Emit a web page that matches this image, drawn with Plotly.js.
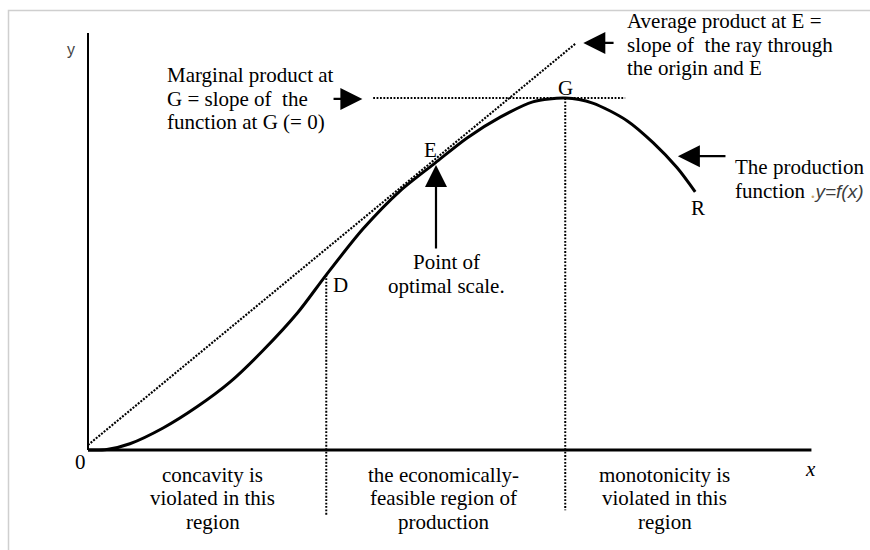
<!DOCTYPE html>
<html>
<head>
<meta charset="utf-8">
<script src="https://cdn.plot.ly/plotly-3.0.1.min.js"></script>
<style>
  html, body { margin: 0; padding: 0; background: #ffffff; }
  #chart { width: 870px; height: 550px; }
</style>
</head>
<body>
<div id="chart"></div>
<script>
// ---- data (arbitrary units) ----
const curveX = [0, 0.26, 0.58, 1.04, 1.51, 1.97, 2.42, 2.90, 3.30, 3.81, 4.32, 4.81, 5.25, 5.71, 6.16, 6.61, 6.99, 7.47, 7.83, 8.16, 8.41];
const curveY = [0, 0.01, 0.15, 0.53, 1.04, 1.64, 2.39, 3.30, 4.22, 5.33, 6.24, 6.92, 7.52, 8.02, 8.39, 8.48, 8.36, 7.93, 7.40, 6.80, 6.22];

const rayX = [0, 6.75];
const rayY = [0.12, 9.79];

const tangentX = [3.95, 7.44];
const tangentY = [8.48, 8.48];

const dropDX = [3.30, 3.30];
const dropDY = [4.22, -1.57];
const dropGX = [6.61, 6.61];
const dropGY = [8.48, -1.45];

const axisXEnd = 10.02;
const axisYEnd = 10.05;

const pointLabels = ['D', 'E', 'G', 'R'];

const marginalText = ['Marginal product at', 'G = slope of  the', 'function at G (= 0)'];
const averageText = ['Average product at E =', 'slope of  the ray through', 'the origin and E'];
const productionText = ['The production',
  'function <span style="color:#c9a46a">.</span><i><span style="font-family:\'Liberation Sans\', Arial, sans-serif;font-size:19px;color:#3d3d3d">y=f(x)</span></i>'];
const optimalText = ['Point of', 'optimal scale.'];
const regionTexts = [
  ['concavity is', 'violated in this', 'region'],
  ['the economically-', 'feasible region of', 'production'],
  ['monotonicity is', 'violated in this', 'region']
];

// ---- layout helpers ----
const SERIF = 'Liberation Serif, Times New Roman, serif';
const FS = 21;

const dotted = { color: '#000', width: 2, dash: '1.8px,1.6px' };
const traces = [
  { x: rayX, y: rayY, mode: 'lines', line: { color: '#000', width: 2.1, dash: '2px,1.4px' }, hoverinfo: 'skip' },
  { x: tangentX, y: tangentY, mode: 'lines', line: dotted, hoverinfo: 'skip' },
  { x: dropDX, y: dropDY, mode: 'lines', line: dotted, hoverinfo: 'skip' },
  { x: dropGX, y: dropGY, mode: 'lines', line: dotted, hoverinfo: 'skip' },
  { x: curveX, y: curveY, mode: 'lines', line: { color: '#000', width: 3, shape: 'spline', smoothing: 0.8 }, hoverinfo: 'skip' }
];

const annotations = [];
function txt(text, x, y, opts) {
  annotations.push(Object.assign({
    text: text, x: x, y: y, xref: 'x', yref: 'y', showarrow: false,
    xanchor: 'center', yanchor: 'middle', borderpad: 0, borderwidth: 0,
    font: { family: SERIF, size: FS, color: '#000' }
  }, opts || {}));
}
function arrow(tipX, tipY, tailX, tailY) {
  annotations.push({
    text: '', x: tipX, y: tipY, ax: tailX, ay: tailY,
    xref: 'x', yref: 'y', axref: 'x', ayref: 'y',
    showarrow: true, arrowhead: 2, arrowsize: 2, arrowwidth: 2.2, arrowcolor: '#000', standoff: 0
  });
}
// block of lines centred vertically on yMid
function block(lines, x, yMid, opts) {
  const step = 0.566;
  const n = lines.length;
  lines.forEach((t, i) => txt(t, x, yMid + ((n - 1) / 2 - i) * step, opts));
}

// axis labels
txt('y', -0.235, 9.66, { font: { family: 'Liberation Sans, Arial, sans-serif', size: 16, color: '#444' } });
txt('0', -0.11, -0.30);
txt('<i>x</i>', 10.0, -0.46);

// point labels
const pointPos = [[3.50, 3.98], [4.74, 7.23], [6.61, 8.72], [8.45, 5.83]];
pointLabels.forEach((p, i) => txt(p, pointPos[i][0], pointPos[i][1]));

// text blocks
block(marginalText, 1.10, 8.46, { xanchor: 'left' });
block(averageText, 7.47, 9.76, { xanchor: 'left' });
block(productionText, 8.96, 6.53, { xanchor: 'left' });
block(optimalText, 4.96, 4.24);
const regionCenters = [1.73, 4.92, 7.99];
regionTexts.forEach((lines, r) => block(lines, regionCenters[r], -1.16));

// arrows
arrow(3.80, 8.46, 3.38, 8.46);   // marginal product -> tangent line
arrow(6.86, 9.81, 7.30, 9.81);   // average product -> ray
arrow(4.82, 6.87, 4.82, 4.82);   // point of optimal scale -> E
arrow(8.17, 7.08, 8.85, 7.08);   // production function -> curve

const shapes = [
  // thin grey frame of the original figure
  { type: 'rect', xref: 'paper', yref: 'paper', x0: 8.5 / 870, x1: 1.02, y0: -0.02, y1: 1 - 10.5 / 550,
    line: { color: '#cfcfcf', width: 1.5 }, fillcolor: 'rgba(0,0,0,0)', layer: 'below' },
  // y axis
  { type: 'line', xref: 'x', yref: 'y', x0: 0, x1: 0, y0: 0, y1: axisYEnd, line: { color: '#000', width: 2 } },
  // x axis
  { type: 'line', xref: 'x', yref: 'y', x0: 0, x1: axisXEnd, y0: 0, y1: 0, line: { color: '#000', width: 3.2 } }
];

const layout = {
  width: 870, height: 550,
  margin: { l: 0, r: 0, t: 0, b: 0 },
  paper_bgcolor: '#ffffff', plot_bgcolor: '#ffffff',
  showlegend: false,
  xaxis: { range: [-88 / 72.2, 782 / 72.2], visible: false, fixedrange: true },
  yaxis: { range: [-100 / 41.5, 450 / 41.5], visible: false, fixedrange: true },
  shapes: shapes,
  annotations: annotations
};

Plotly.newPlot('chart', traces, layout, { displayModeBar: false, staticPlot: true });
</script>
</body>
</html>
